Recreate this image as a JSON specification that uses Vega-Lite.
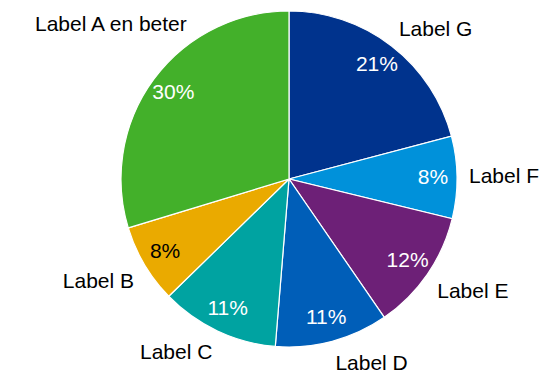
{
  "$schema": "https://vega.github.io/schema/vega-lite/v6.json",
  "width": 500,
  "height": 358,
  "autosize": {"type": "none"},
  "padding": {"left": 39, "top": 0, "right": 0, "bottom": 16},
  "background": "white",
  "config": {
    "view": {"stroke": null},
    "text": {"font": "Liberation Sans", "fontSize": 21}
  },
  "data": {
    "values": [
      {"label": "Label G", "share": 0.209},
      {"label": "Label F", "share": 0.079},
      {"label": "Label E", "share": 0.116},
      {"label": "Label D", "share": 0.109},
      {"label": "Label C", "share": 0.114},
      {"label": "Label B", "share": 0.076},
      {"label": "Label A en beter", "share": 0.297}
    ]
  },
  "encoding": {
    "theta": {"field": "share", "type": "quantitative", "stack": true},
    "order": {"field": "label", "type": "ordinal", "sort": "descending"}
  },
  "layer": [
    {
      "mark": {"type": "arc", "outerRadius": 168, "stroke": "white", "strokeWidth": 1.2},
      "encoding": {
        "color": {
          "field": "label",
          "type": "nominal",
          "scale": {
            "domain": ["Label G", "Label F", "Label E", "Label D", "Label C", "Label B", "Label A en beter"],
            "range": ["#00338D", "#0091DA", "#6D2077", "#005EB8", "#00A3A1", "#EAAA00", "#43B02A"]
          },
          "legend": null
        }
      }
    },
    {
      "mark": {"type": "text", "radius": 144, "align": "center", "baseline": "middle"},
      "encoding": {
        "text": {"field": "share", "type": "quantitative", "format": ".0%"},
        "color": {"condition": {"test": "datum.label === 'Label B'", "value": "black"}, "value": "white"}
      }
    },
    {
      "mark": {
        "type": "text",
        "radius": 180,
        "color": "black",
        "align": {"expr": "sin(PI*(datum.share_start+datum.share_end)) > 0.2 ? 'left' : (sin(PI*(datum.share_start+datum.share_end)) < -0.2 ? 'right' : 'center')"},
        "baseline": {"expr": "cos(PI*(datum.share_start+datum.share_end)) > 0.3 ? 'alphabetic' : (cos(PI*(datum.share_start+datum.share_end)) < -0.3 ? 'top' : 'middle')"},
        "dx": {"expr": "(sin(PI*(datum.share_start+datum.share_end)) < -0.2 && (length(datum.label)*9.8 - 9 - width/2)/180 > sin(PI*(datum.share_start+datum.share_end))) ? 180*((length(datum.label)*9.8 - 9 - width/2)/180 - sin(PI*(datum.share_start+datum.share_end))) : 0"},
        "dy": {"expr": "(sin(PI*(datum.share_start+datum.share_end)) < -0.2 && (length(datum.label)*9.8 - 9 - width/2)/180 > sin(PI*(datum.share_start+datum.share_end))) ? -180*((cos(PI*(datum.share_start+datum.share_end)) >= 0 ? 1 : -1)*sqrt(1 - pow((length(datum.label)*9.8 - 9 - width/2)/180, 2)) - cos(PI*(datum.share_start+datum.share_end))) : 0"}
      },
      "encoding": {
        "text": {"field": "label", "type": "nominal"}
      }
    }
  ]
}
